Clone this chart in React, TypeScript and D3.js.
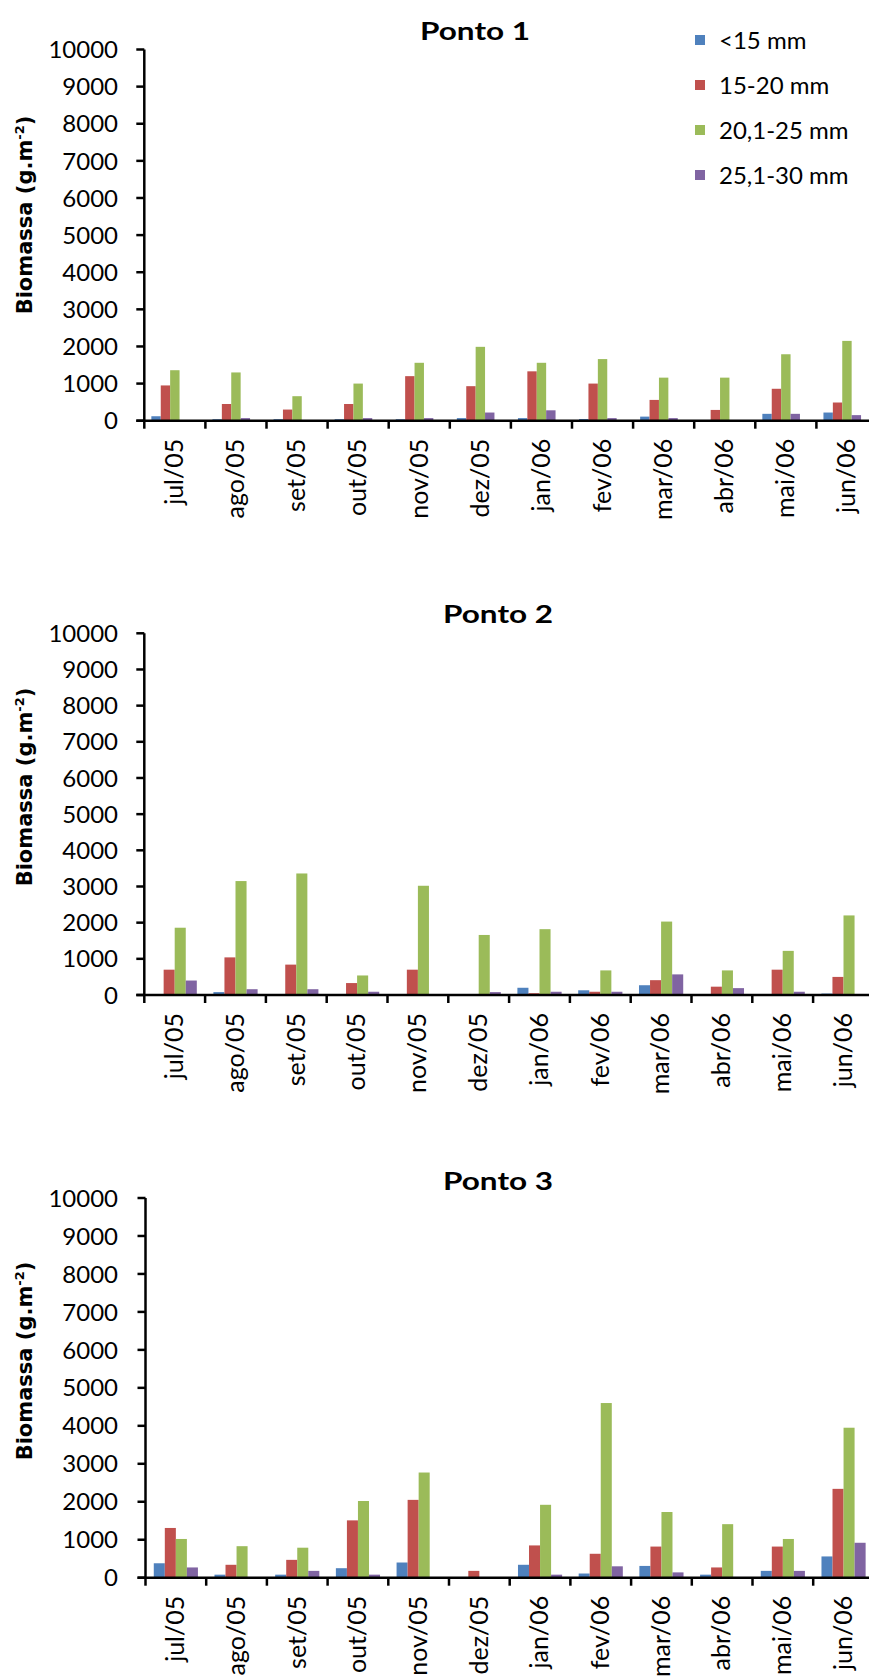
import React from 'react';
import * as d3 from 'd3';

// categories and legend
const months = ['jul/05', 'ago/05', 'set/05', 'out/05', 'nov/05', 'dez/05', 'jan/06', 'fev/06', 'mar/06', 'abr/06', 'mai/06', 'jun/06'];
const sizeClasses = ['<15 mm', '15-20 mm', '20,1-25 mm', '25,1-30 mm'];
const classColors = ['#4F81BD', '#C0504D', '#9BBB59', '#8064A2'];
const yTicks = [0, 1000, 2000, 3000, 4000, 5000, 6000, 7000, 8000, 9000, 10000];

// Ponto 1 (g.m-2)
const p1Lt15 = [120, 40, 40, 40, 40, 70, 70, 45, 110, 0, 185, 220];
const p1From15 = [950, 450, 300, 450, 1200, 930, 1330, 1000, 560, 290, 860, 490];
const p1From20 = [1360, 1300, 660, 1000, 1560, 1990, 1560, 1660, 1160, 1160, 1790, 2150];
const p1From25 = [0, 70, 0, 70, 70, 220, 280, 70, 70, 0, 185, 150];

// Ponto 2
const p2Lt15 = [0, 80, 0, 0, 0, 0, 200, 130, 270, 0, 0, 40];
const p2From15 = [700, 1040, 840, 330, 700, 0, 50, 90, 410, 230, 700, 500];
const p2From20 = [1860, 3150, 3360, 540, 3020, 1660, 1820, 680, 2030, 680, 1220, 2200];
const p2From25 = [400, 160, 160, 90, 0, 80, 90, 90, 570, 190, 90, 0];

// Ponto 3
const p3Lt15 = [380, 80, 80, 250, 400, 0, 340, 110, 310, 80, 180, 560];
const p3From15 = [1310, 340, 470, 1510, 2050, 180, 850, 630, 820, 270, 820, 2340];
const p3From20 = [1020, 830, 790, 2020, 2770, 0, 1920, 4600, 1730, 1410, 1020, 3950];
const p3From25 = [270, 0, 180, 80, 0, 0, 80, 300, 140, 0, 180, 920];

const panels = [
  {
    title: 'Ponto 1', series: [p1Lt15, p1From15, p1From20, p1From25], slots: 5, legend: true,
    left: 144.3, step: 61.1, top: 49.5, base: 420.7, titleX: 475, titleY: 32, labelY: 215,
  },
  {
    title: 'Ponto 2', series: [p2Lt15, p2From15, p2From20, p2From25], slots: 4, legend: false,
    left: 144.3, step: 60.8, top: 633.3, base: 995, titleX: 498, titleY: 615, labelY: 787,
  },
  {
    title: 'Ponto 3', series: [p3Lt15, p3From15, p3From20, p3From25], slots: 4, legend: false,
    left: 145.5, step: 60.7, top: 1198, base: 1577.7, titleX: 498, titleY: 1182, labelY: 1361,
  },
];

const numFont = 'Lato, "Open Sans", sans-serif';

function Panel({ p }) {
  const x = d3.scaleBand()
    .domain(months)
    .range([p.left, p.left + p.step * months.length])
    .paddingInner(0)
    .paddingOuter(0);
  // Excel style: gap width 150% of a bar
  const inner = d3.scaleBand()
    .domain(d3.range(p.slots).map(String))
    .range([0, x.bandwidth()])
    .paddingInner(0)
    .paddingOuter(0.75);
  const y = d3.scaleLinear().domain([0, 10000]).range([p.base, p.top]);
  const boundaries = months.map(m => x(m)).concat([x.range()[1]]);

  return (
    <g>
      <text x={p.titleX} y={p.titleY} dy="0.35em" textAnchor="middle" fontFamily={numFont}
        fontWeight="bold" fontSize={24} textLength={110} lengthAdjust="spacingAndGlyphs">{p.title}</text>

      <text transform={`translate(25,${p.labelY}) rotate(-90)`} textAnchor="middle" dy="0.35em"
        fontFamily='"DejaVu Sans", Verdana, sans-serif' fontWeight="bold" fontSize={21}>
        Biomassa (g.m<tspan fontSize={13} dy={-8}>-2</tspan><tspan dy={8}>)</tspan>
      </text>

      {p.series.map((vals, si) => (
        <g key={si} fill={classColors[si]}>
          {vals.map((v, i) => (
            <rect key={i} x={x(months[i]) + inner(String(si))} width={inner.bandwidth()}
              y={y(v)} height={p.base - y(v)} />
          ))}
        </g>
      ))}

      {/* y axis */}
      <line x1={p.left} x2={p.left} y1={y(10000)} y2={p.base} stroke="#000" strokeWidth={2.5} />
      {yTicks.map(t => (
        <g key={t}>
          <line x1={p.left - 8} x2={p.left} y1={y(t)} y2={y(t)} stroke="#000" strokeWidth={2.5} />
          <text x={118} y={y(t)} dy="0.36em" textAnchor="end" fontFamily={numFont} fontSize={24}>{t}</text>
        </g>
      ))}

      {/* x axis */}
      <line x1={p.left - 8} x2={x.range()[1]} y1={p.base} y2={p.base} stroke="#000" strokeWidth={2.5} />
      {boundaries.map((b, i) => (
        <line key={i} x1={b} x2={b} y1={p.base} y2={p.base + 8} stroke="#000" strokeWidth={2.5} />
      ))}
      {months.map(m => (
        <text key={m} transform={`translate(${x(m) + x.bandwidth() / 2},${p.base + 18}) rotate(-90)`}
          textAnchor="end" dy="0.33em" fontFamily={numFont} fontSize={25}>{m}</text>
      ))}

      {p.legend && sizeClasses.map((c, i) => (
        <g key={c} transform={`translate(695,${40 + i * 45})`}>
          <rect x={0} y={-5} width={10} height={10} fill={classColors[i]} />
          <text x={24} dy="0.36em" fontFamily={numFont} fontSize={24}>{c}</text>
        </g>
      ))}
    </g>
  );
}

export default function App() {
  return (
    <div style={{ position: 'absolute', left: 0, top: 0 }}>
      <svg width={869} height={1676} style={{ display: 'block', background: '#fff' }}>
        <rect width={869} height={1676} fill="#fff" />
        {panels.map(p => <Panel key={p.title} p={p} />)}
      </svg>
    </div>
  );
}
